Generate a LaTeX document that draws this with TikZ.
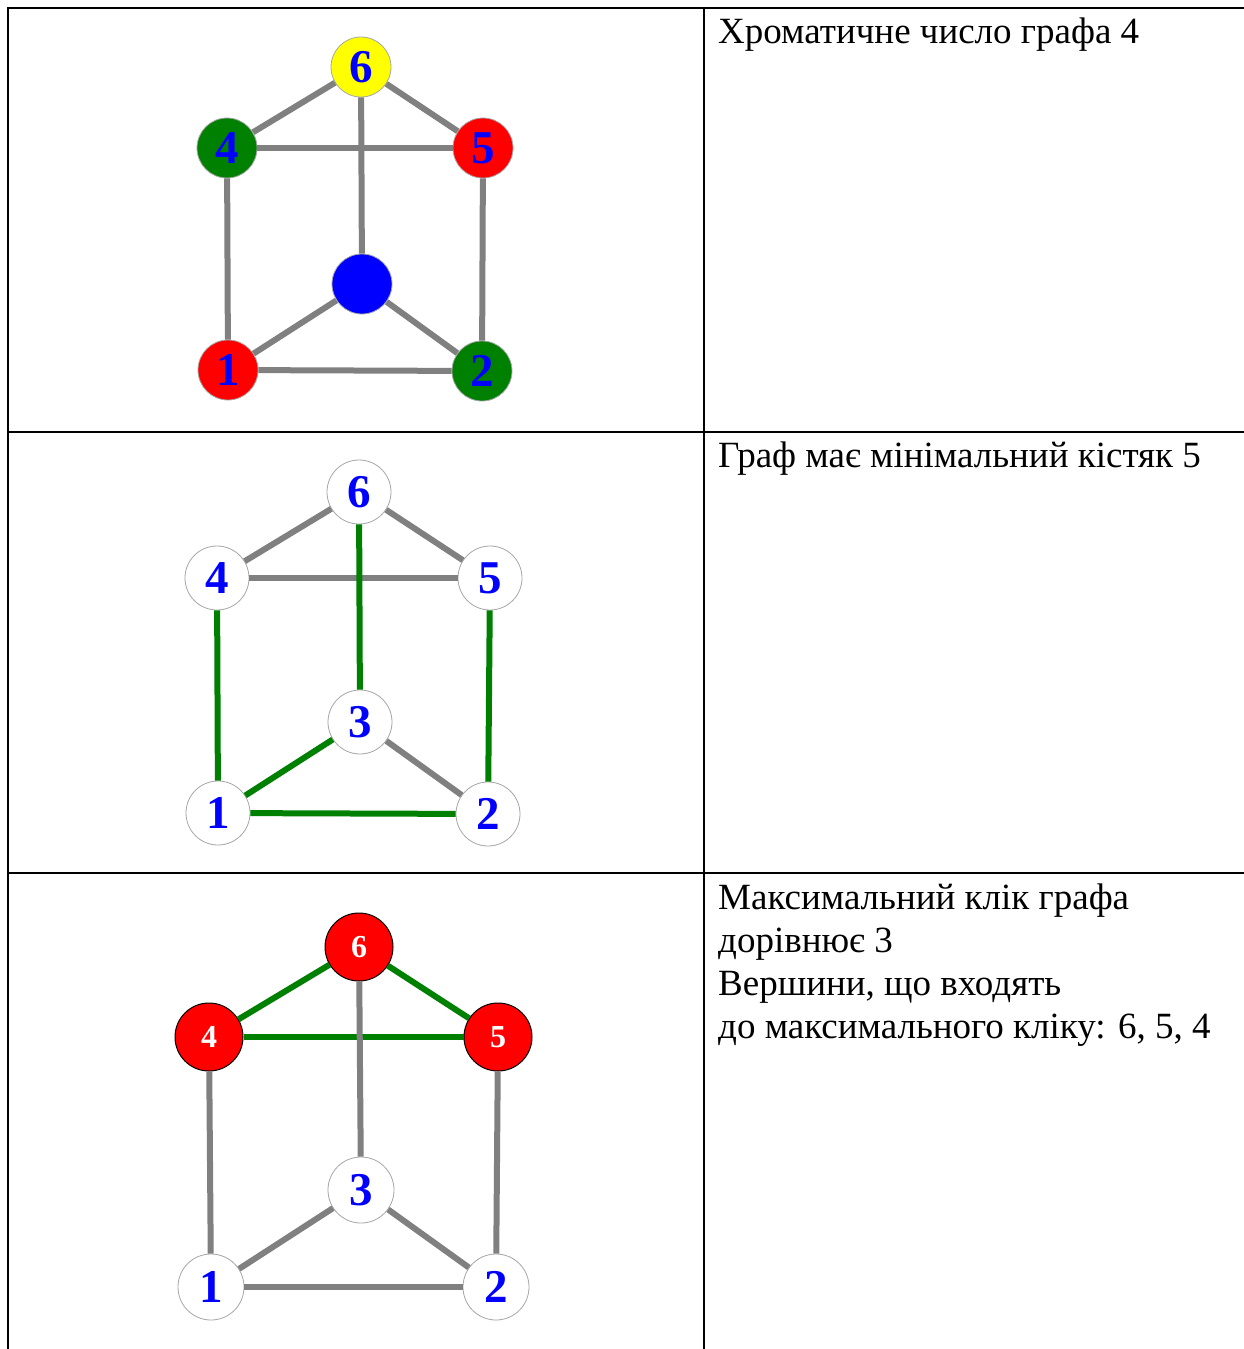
\documentclass[tikz,border=0pt]{standalone}
\usepackage{fontspec}
\setmainfont{Liberation Serif}
\definecolor{egray}{RGB}{128,128,128}
\definecolor{dgreen}{RGB}{0,128,0}
\definecolor{vred}{RGB}{255,0,0}
\definecolor{vyellow}{RGB}{255,255,0}
\definecolor{vblue}{RGB}{0,0,255}
\begin{document}
\begin{tikzpicture}[x=1pt,y=-1pt,
  vtx/.style={circle, minimum size=60pt, inner sep=0pt, draw=egray!70, line width=0.8pt,
    font=\fontsize{47}{47}\selectfont\bfseries, text=vblue},
  wvtx/.style={vtx, fill=white, minimum size=64pt},
  rvtx/.style={circle, minimum size=68pt, inner sep=0pt, draw=black, line width=1pt, fill=vred,
    font=\fontsize{32}{32}\selectfont\bfseries, text=white},
  gedge/.style={draw=egray, line width=6pt},
  tedge/.style={draw=dgreen, line width=6pt},
  border/.style={draw=black, line width=2.5pt},
  celltext/.style={anchor=base west, inner sep=0pt, align=left,
    font=\fontsize{37}{43}\selectfont}
]
\useasboundingbox (0,0) rectangle (1244,1349);
\fill[white] (0,0) rectangle (1244,1349);
% table
\draw[border] (8,1349) -- (8,8) -- (1244,8);
\draw[border] (704,8) -- (704,1349);
\draw[border] (8,432) -- (1244,432);
\draw[border] (8,873) -- (1244,873);
% texts (base anchor of a multi-line node is its last line)
\node[celltext] (t1) at (718,43) {Хроматичне число графа 4};
\node[celltext] (t2) at (718,467) {Граф має мінімальний кістяк 5};
\node[celltext] (t3) at (718,1038) {Максимальний клік графа\\дорівнює 3\\Вершини, що входять\\до максимального кліку: 6, 5, 4};

% graph 1
\node[vtx, fill=vyellow] (a6) at (361,67) {6};
\node[vtx, fill=dgreen] (a4) at (227,148) {4};
\node[vtx, fill=vred] (a5) at (483,148) {5};
\node[vtx, fill=vblue] (a3) at (362,284) {};
\node[vtx, fill=vred] (a1) at (228,370) {1};
\node[vtx, fill=dgreen] (a2) at (482,371) {2};
\draw[gedge] (a6) -- (a4);
\draw[gedge] (a6) -- (a5);
\draw[gedge] (a4) -- (a5);
\draw[gedge] (a6) -- (a3);
\draw[gedge] (a4) -- (a1);
\draw[gedge] (a5) -- (a2);
\draw[gedge] (a3) -- (a1);
\draw[gedge] (a3) -- (a2);
\draw[gedge] (a1) -- (a2);

% graph 2
\node[wvtx] (b6) at (359,492) {6};
\node[wvtx] (b4) at (217,578) {4};
\node[wvtx] (b5) at (490,578) {5};
\node[wvtx] (b3) at (360,722) {3};
\node[wvtx] (b1) at (218,813) {1};
\node[wvtx] (b2) at (488,814) {2};
\draw[gedge] (b6) -- (b4);
\draw[gedge] (b6) -- (b5);
\draw[gedge] (b4) -- (b5);
\draw[tedge] (b6) -- (b3);
\draw[tedge] (b4) -- (b1);
\draw[tedge] (b5) -- (b2);
\draw[tedge] (b3) -- (b1);
\draw[gedge] (b3) -- (b2);
\draw[tedge] (b1) -- (b2);

% graph 3
\node[rvtx] (c6) at (359,947) {6};
\node[rvtx] (c4) at (209,1037) {4};
\node[rvtx] (c5) at (498,1037) {5};
\node[wvtx, minimum size=66pt] (c3) at (361,1190) {3};
\node[wvtx, minimum size=66pt] (c1) at (211,1287) {1};
\node[wvtx, minimum size=66pt] (c2) at (496,1287) {2};
\draw[tedge] (c6) -- (c4);
\draw[tedge] (c6) -- (c5);
\draw[tedge] (c4) -- (c5);
\draw[gedge] (c6) -- (c3);
\draw[gedge] (c4) -- (c1);
\draw[gedge] (c5) -- (c2);
\draw[gedge] (c3) -- (c1);
\draw[gedge] (c3) -- (c2);
\draw[gedge] (c1) -- (c2);
\end{tikzpicture}
\end{document}
